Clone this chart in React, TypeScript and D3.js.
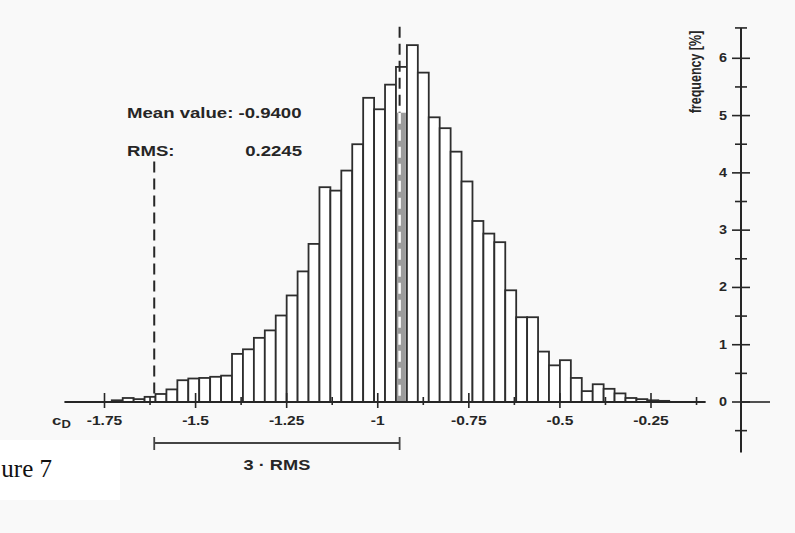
import React from 'react';
import * as d3 from 'd3';

// histogram bins (left edge, width 0.03) and frequency in %
const BIN_WIDTH = 0.03;
const binStarts = [
  -1.73, -1.7, -1.67, -1.64, -1.61, -1.58, -1.55, -1.52, -1.49, -1.46,
  -1.43, -1.4, -1.37, -1.34, -1.31, -1.28, -1.25, -1.22, -1.19, -1.16,
  -1.13, -1.1, -1.07, -1.04, -1.01, -0.98, -0.95, -0.92, -0.89, -0.86,
  -0.83, -0.8, -0.77, -0.74, -0.71, -0.68, -0.65, -0.62, -0.59, -0.56,
  -0.53, -0.5, -0.47, -0.44, -0.41, -0.38, -0.35, -0.32, -0.29, -0.26,
  -0.23,
];
const frequency = [
  0.03, 0.07, 0.05, 0.09, 0.14, 0.22, 0.38, 0.41, 0.42, 0.44,
  0.46, 0.84, 0.92, 1.12, 1.25, 1.51, 1.86, 2.28, 2.76, 3.75,
  3.69, 4.04, 4.5, 5.31, 5.11, 5.54, 5.85, 6.23, 5.75, 4.97,
  4.78, 4.37, 3.85, 3.16, 2.94, 2.79, 1.95, 1.48, 1.48, 0.88,
  0.64, 0.73, 0.42, 0.19, 0.31, 0.23, 0.15, 0.07, 0.05, 0.03,
  0.02,
];

const xTicks = [-1.75, -1.5, -1.25, -1, -0.75, -0.5, -0.25];
const xTickLabels = ['-1.75', '-1.5', '-1.25', '-1', '-0.75', '-0.5', '-0.25'];
const xMinorTicks = [-1.625, -1.375, -1.125, -0.875, -0.625, -0.375, -0.125];
const yTicks = [0, 1, 2, 3, 4, 5, 6];
const yMinorTicks = [-0.5, 0.5, 1.5, 2.5, 3.5, 4.5, 5.5];

const MEAN = -0.94;
const RMS = 0.2245;

const FONT = "'Liberation Sans', Arial, Helvetica, sans-serif";
const INK = '#262626';

const Stretch = ({ x, y, size, sx = 1.3, anchor = 'start', children }: any) => (
  <text
    transform={`translate(${x},${y}) scale(${sx},1)`}
    textAnchor={anchor}
    fontSize={size}
    fontWeight="bold"
    fontFamily={FONT}
    fill={INK}
  >
    {children}
  </text>
);

export default function App() {
  const W = 795;
  const H = 533;

  const x = d3.scaleLinear().domain([-1.75, -0.25]).range([104.5, 651]);
  const y = d3.scaleLinear().domain([0, 6]).range([402, 58.3]);
  const yAxisX = 741;

  const lowLimit = MEAN - 3 * RMS;
  const meanBin = binStarts.findIndex(b => MEAN >= b && MEAN < b + BIN_WIDTH);
  const shadeTop = 5.05;

  return (
    <svg width={W} height={H} style={{ position: 'absolute', left: 0, top: 0 }}>
      <rect width={W} height={H} fill="#f9f9f9" />
      <rect x={0} y={440} width={120} height={60} fill="#ffffff" />

      {/* histogram bars */}
      {binStarts.map((b, i) => (
        <rect
          key={i}
          x={x(b)}
          y={y(frequency[i])}
          width={x(b + BIN_WIDTH) - x(b)}
          height={y(0) - y(frequency[i])}
          fill="#ffffff"
          stroke="#2e2e2e"
          strokeWidth={1.8}
        />
      ))}

      {/* shaded mean bin */}
      <rect
        x={x(binStarts[meanBin]) + 1}
        y={y(shadeTop)}
        width={x(binStarts[meanBin] + BIN_WIDTH) - x(binStarts[meanBin]) - 2}
        height={y(0) - y(shadeTop)}
        fill="#9c9c9c"
      />

      {/* mean line */}
      <line x1={x(MEAN)} x2={x(MEAN)} y1={y(6.55)} y2={y(shadeTop)}
        stroke={INK} strokeWidth={2} strokeDasharray="11,6" />
      <line x1={x(MEAN)} x2={x(MEAN)} y1={y(shadeTop)} y2={y(0) - 2}
        stroke="#ffffff" strokeWidth={2.5} strokeDasharray="11,6" />

      {/* mean - 3 RMS line */}
      <line x1={x(lowLimit)} x2={x(lowLimit)} y1={y(4.2)} y2={y(0) - 3}
        stroke={INK} strokeWidth={2} strokeDasharray="11,6" />

      {/* x axis */}
      <line x1={x(-1.86)} x2={x(-0.1)} y1={y(0)} y2={y(0)} stroke={INK} strokeWidth={1.8} />
      {xTicks.map(t => (
        <line key={t} x1={x(t)} x2={x(t)} y1={y(0) - 9} y2={y(0) + 6} stroke={INK} strokeWidth={1.6} />
      ))}
      {xMinorTicks.map(t => (
        <line key={t} x1={x(t)} x2={x(t)} y1={y(0) - 5} y2={y(0) + 3} stroke={INK} strokeWidth={1.6} />
      ))}
      {xTicks.map((t, i) => (
        <Stretch key={t} x={x(t)} y={425} size={12} sx={1.3} anchor="middle">
          {xTickLabels[i]}
        </Stretch>
      ))}
      <g transform="translate(52,425) scale(1.3,1)">
        <text x={0} y={0} fontSize={13} fontWeight="bold" fontFamily={FONT} fill={INK}>
          c<tspan fontSize={10} dy={3}>D</tspan>
        </text>
      </g>

      {/* y axis */}
      <line x1={yAxisX} x2={yAxisX} y1={y(6.53)} y2={y(-0.88)} stroke={INK} strokeWidth={2} />
      <line x1={yAxisX - 6} x2={yAxisX + 6} y1={y(6.53)} y2={y(6.53)} stroke={INK} strokeWidth={1.6} />
      <line x1={yAxisX} x2={yAxisX + 29} y1={y(0)} y2={y(0)} stroke={INK} strokeWidth={1.6} />
      {yTicks.map(t => (
        <line key={t} x1={yAxisX - 9} x2={yAxisX + 9} y1={y(t)} y2={y(t)} stroke={INK} strokeWidth={1.6} />
      ))}
      {yMinorTicks.map(t => (
        <line key={t} x1={yAxisX - 6} x2={yAxisX + 6} y1={y(t)} y2={y(t)} stroke={INK} strokeWidth={1.6} />
      ))}
      {yTicks.map(t => (
        <Stretch key={t} x={727} y={y(t) + 4} size={12} sx={1.2} anchor="end">
          {String(t)}
        </Stretch>
      ))}
      <text
        transform={`translate(701,72) scale(1.3,1) rotate(-90)`}
        textAnchor="middle"
        fontSize={12.5}
        fontWeight="bold"
        fontFamily={FONT}
        fill={INK}
      >
        frequency [%]
      </text>

      {/* annotations */}
      <Stretch x={127} y={118} size={15} sx={1.24}>Mean value: -0.9400</Stretch>
      <Stretch x={127} y={156} size={15} sx={1.24}>RMS:</Stretch>
      <Stretch x={302} y={156} size={15} sx={1.24} anchor="end">0.2245</Stretch>

      {/* 3 RMS bracket */}
      <line x1={x(lowLimit)} x2={x(MEAN)} y1={443} y2={443} stroke="#444" strokeWidth={2.2} />
      <line x1={x(lowLimit)} x2={x(lowLimit)} y1={437} y2={450} stroke="#444" strokeWidth={1.8} />
      <line x1={x(MEAN)} x2={x(MEAN)} y1={437} y2={450} stroke="#444" strokeWidth={1.8} />
      <Stretch x={(x(lowLimit) + x(MEAN)) / 2} y={470} size={14} sx={1.3} anchor="middle">
        3 · RMS
      </Stretch>

      <text x={52} y={477} textAnchor="end" fontSize={25}
        fontFamily="'Liberation Serif', 'Times New Roman', serif" fill="#111">
        ure 7
      </text>
    </svg>
  );
}
